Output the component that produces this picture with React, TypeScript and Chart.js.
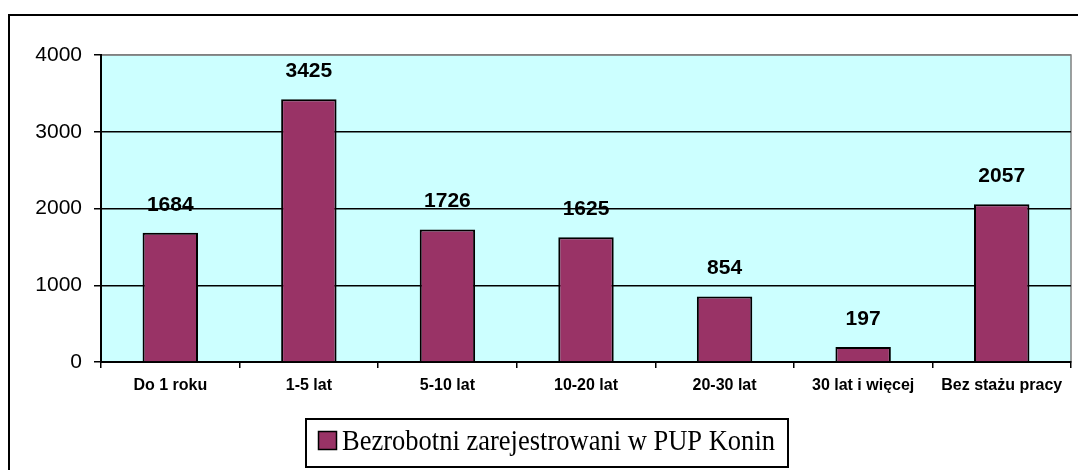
import React, { useEffect, useRef } from "react";
import { Chart, registerables } from "chart.js";

Chart.register(...registerables);

const categories = [
  "Do 1 roku",
  "1-5 lat",
  "5-10 lat",
  "10-20 lat",
  "20-30 lat",
  "30 lat i więcej",
  "Bez stażu pracy",
];
const values = [1684, 3425, 1726, 1625, 854, 197, 2057];
const seriesLabel = "Bezrobotni zarejestrowani w PUP Konin";
const yTicks = [0, 1000, 2000, 3000, 4000];

const BAR_COLOR = "#993366";
const PLOT_BG = "#CCFFFF";
const SANS = "Arial, 'Liberation Sans', sans-serif";
const SERIF = "'Times New Roman', 'Liberation Serif', serif";

const framePlugin = {
  id: "frame",
  beforeDraw(chart: any) {
    const { ctx, chartArea, width, height } = chart;
    ctx.save();
    ctx.fillStyle = "#ffffff";
    ctx.fillRect(0, 0, width, height);
    // outer border
    ctx.strokeStyle = "#000";
    ctx.lineWidth = 2;
    ctx.strokeRect(9, 15, width + 20, height + 20);
    // plot background
    ctx.fillStyle = PLOT_BG;
    ctx.fillRect(chartArea.left, chartArea.top, chartArea.right - chartArea.left, chartArea.bottom - chartArea.top);
    ctx.strokeStyle = "#808080";
    ctx.lineWidth = 1.5;
    ctx.strokeRect(chartArea.left, chartArea.top, chartArea.right - chartArea.left, chartArea.bottom - chartArea.top);
    ctx.restore();
  },
};

const valueLabelPlugin = {
  id: "valueLabels",
  afterDatasetsDraw(chart: any) {
    const { ctx } = chart;
    const meta = chart.getDatasetMeta(0);
    ctx.save();
    ctx.fillStyle = "#000";
    ctx.font = `bold 21px ${SANS}`;
    ctx.textAlign = "center";
    ctx.textBaseline = "middle";
    meta.data.forEach((bar: any, i: number) => {
      ctx.fillText(String(values[i]), bar.x, bar.y - 28);
    });
    ctx.restore();
  },
};

const boxedLegendPlugin = {
  id: "boxedLegend",
  afterDraw(chart: any) {
    const { ctx } = chart;
    ctx.save();
    // legend frame
    ctx.strokeStyle = "#000";
    ctx.lineWidth = 2;
    ctx.strokeRect(306, 419, 482, 48);
    // swatch
    ctx.fillStyle = BAR_COLOR;
    ctx.fillRect(318, 431, 19, 19);
    ctx.lineWidth = 1.5;
    ctx.strokeRect(318.5, 431.5, 18, 18);
    // text
    ctx.fillStyle = "#000";
    ctx.font = `29px ${SERIF}`;
    ctx.textAlign = "left";
    ctx.textBaseline = "alphabetic";
    const w = ctx.measureText(seriesLabel).width;
    const target = 433;
    ctx.translate(342, 450);
    ctx.scale(target / w, 1);
    ctx.fillText(seriesLabel, 0, 0);
    ctx.restore();
  },
};

export default function App() {
  const ref = useRef<HTMLCanvasElement>(null);

  useEffect(() => {
    const canvas = ref.current;
    if (!canvas) return;
    const chart = new Chart(canvas, {
      type: "bar",
      data: {
        labels: categories,
        datasets: [
          {
            label: seriesLabel,
            data: values,
            backgroundColor: BAR_COLOR,
            borderColor: "#000",
            borderWidth: 2,
            categoryPercentage: 1,
            barPercentage: 0.4,
          },
        ],
      },
      options: {
        responsive: false,
        animation: false,
        devicePixelRatio: 1,
        layout: { padding: { top: 55, right: 7, bottom: 68, left: 0 } },
        plugins: {
          legend: { display: false },
          tooltip: { enabled: false },
        },
        scales: {
          x: {
            offset: true,
            grid: {
              offset: true,
              drawOnChartArea: false,
              drawTicks: true,
              tickLength: 6,
              color: "#000",
              lineWidth: 1.5,
            },
            border: { color: "#000", width: 2 },
            ticks: {
              color: "#000",
              font: { family: SANS, size: 16, weight: "bold" },
              padding: 8,
              maxRotation: 0,
              autoSkip: false,
            },
            afterFit: (s: any) => {
              s.height = 40;
            },
          },
          y: {
            min: 0,
            max: 4000,
            afterBuildTicks: (s: any) => {
              s.ticks = yTicks.map((v) => ({ value: v }));
            },
            ticks: {
              color: "#000",
              font: { family: SANS, size: 21 },
              padding: 12,
              callback: (v: any) => String(v),
            },
            grid: {
              color: (c: any) => (c.tick && c.tick.value === 4000 ? "#808080" : "#000"),
              tickColor: "#000",
              lineWidth: 1.5,
              tickLength: 7,
              drawTicks: true,
            },
            border: { color: "#000", width: 2 },
            afterFit: (s: any) => {
              s.width = 101;
            },
          },
        },
      } as any,
      plugins: [framePlugin, valueLabelPlugin, boxedLegendPlugin],
    });
    return () => chart.destroy();
  }, []);

  return (
    <div style={{ position: "fixed", left: 0, top: 0, width: 1078, height: 470, background: "#fff" }}>
      <canvas ref={ref} width={1078} height={470} style={{ display: "block" }} />
    </div>
  );
}
